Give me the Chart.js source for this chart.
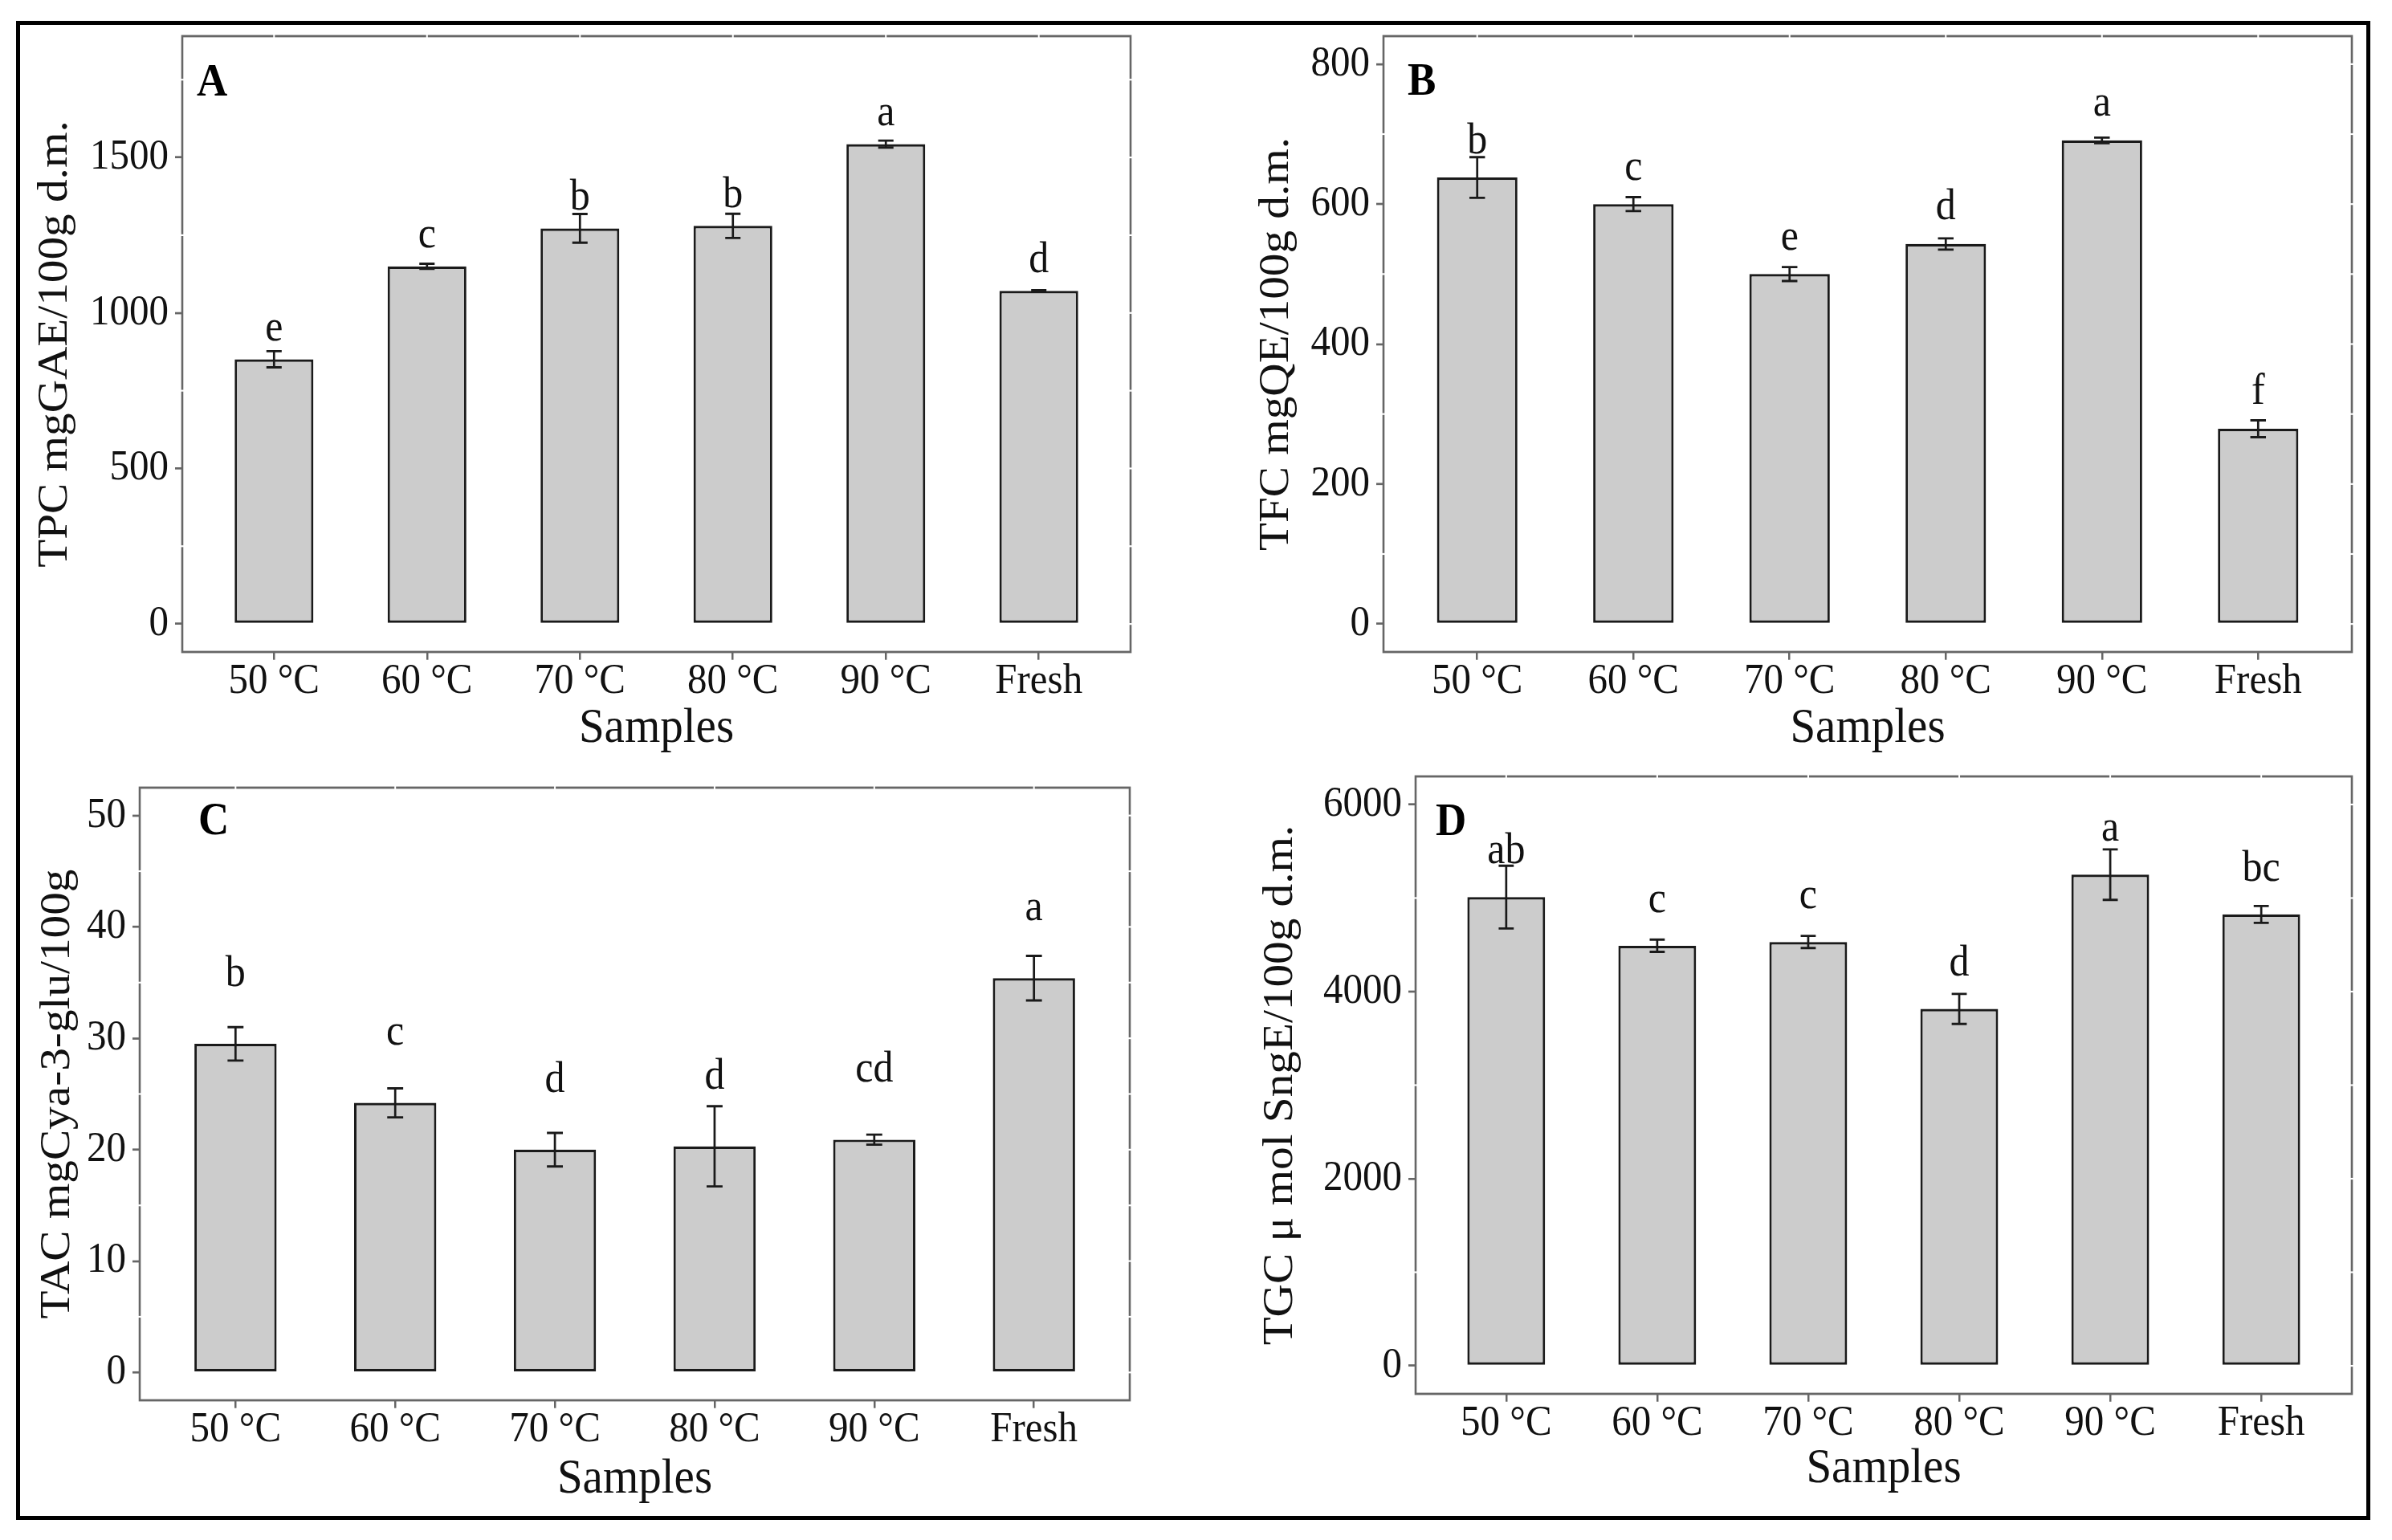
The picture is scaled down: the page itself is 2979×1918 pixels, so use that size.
<!DOCTYPE html>
<html><head><meta charset="utf-8">
<script src="https://cdn.jsdelivr.net/npm/chart.js@4.4.1/dist/chart.umd.min.js"></script>
<style>
html,body{margin:0;padding:0;background:#fff;}
body{width:2979px;height:1918px;position:relative;overflow:hidden;}
canvas{position:absolute;}
#outer{position:absolute;left:20px;top:26px;width:2922px;height:1857px;border:5px solid #000;pointer-events:none;z-index:5;}
</style></head><body>
<div id="outer"></div>
<canvas id="cA"></canvas>
<canvas id="cB"></canvas>
<canvas id="cC"></canvas>
<canvas id="cD"></canvas>
<script>
// ---------- data ----------
const categories = ['50 °C', '60 °C', '70 °C', '80 °C', '90 °C', 'Fresh'];

const tpcMean = [851, 1150, 1272, 1280, 1543, 1071];
const tpcSd = [26, 8, 46, 39, 11, 2];
const tpcLetters = ['e', 'c', 'b', 'b', 'a', 'd'];
const tpcTicks = [0, 500, 1000, 1500];
const tpcMinor = [250, 750, 1250, 1750];
const tpcRange = [-90, 1890];
const tpcLetterOffset = 60;

const tfcMean = [638, 600, 500, 543, 691, 279];
const tfcSd = [29, 10, 10, 8, 4, 12];
const tfcLetters = ['b', 'c', 'e', 'd', 'a', 'f'];
const tfcTicks = [0, 200, 400, 600, 800];
const tfcMinor = [100, 300, 500, 700];
const tfcRange = [-40, 840];
const tfcLetterOffset = 35;

const tacMean = [29.5, 24.2, 20.0, 20.3, 20.9, 35.4];
const tacSd = [1.5, 1.3, 1.5, 3.6, 0.45, 2.0];
const tacLetters = ['b', 'c', 'd', 'd', 'cd', 'a'];
const tacTicks = [0, 10, 20, 30, 40, 50];
const tacMinor = [5, 15, 25, 35, 45];
const tacRange = [-2.5, 52.5];
const tacLetterOffset = 5.2;

const tgcMean = [5010, 4490, 4530, 3815, 5250, 4825];
const tgcSd = [335, 65, 65, 160, 270, 90];
const tgcLetters = ['ab', 'c', 'c', 'd', 'a', 'bc'];
const tgcTicks = [0, 2000, 4000, 6000];
const tgcMinor = [1000, 3000, 5000];
const tgcRange = [-300, 6300];
const tgcLetterOffset = 360;

const xTitle = 'Samples';

// ---------- layout (final pixels) ----------
const FONT = '"Liberation Serif", "Times New Roman", serif';
const STRETCH = 1.08;   // the original figure is slightly stretched vertically
const panels = [
  {id:'cA', tag:'A', title:'TPC mgGAE/100g d.m.', mean:tpcMean, sd:tpcSd, letters:tpcLetters, ticks:tpcTicks, minor:tpcMinor, range:tpcRange, off:tpcLetterOffset,
   canvas:{x:30,y:0,w:1400,h:961}, frame:{l:227,t:45,r:1408,b:812}, yTitleX:69, xTitleDy:96, tagDx:18, tagDy:74},
  {id:'cB', tag:'B', title:'TFC mgQE/100g d.m.', mean:tfcMean, sd:tfcSd, letters:tfcLetters, ticks:tfcTicks, minor:tfcMinor, range:tfcRange, off:tfcLetterOffset,
   canvas:{x:1500,y:0,w:1445,h:961}, frame:{l:1723,t:45,r:2929,b:812}, yTitleX:1590, xTitleDy:96, tagDx:30, tagDy:73},
  {id:'cC', tag:'C', title:'TAC mgCya-3-glu/100g', mean:tacMean, sd:tacSd, letters:tacLetters, ticks:tacTicks, minor:tacMinor, range:tacRange, off:tacLetterOffset,
   canvas:{x:30,y:925,w:1400,h:960}, frame:{l:174,t:981,r:1407,b:1744}, yTitleX:72, xTitleDy:99, tagDx:73, tagDy:58},
  {id:'cD', tag:'D', title:'TGC μ mol SngE/100g d.m.', mean:tgcMean, sd:tgcSd, letters:tgcLetters, ticks:tgcTicks, minor:tgcMinor, range:tgcRange, off:tgcLetterOffset,
   canvas:{x:1500,y:915,w:1445,h:970}, frame:{l:1763,t:967,r:2929,b:1736}, yTitleX:1595, xTitleDy:94, tagDx:25, tagDy:73}
];

const TICK_SIZE = 49, YTITLE_SIZE = 53, XTITLE_SIZE = 57, LETTER_SIZE = 50, TAG_SIZE = 53;
const FRAME_COLOR = '#666666';
const INK = '#111111';

function makePlugin(p, sy) {
  return {
    id: 'decor' + p.tag,
    beforeDraw(chart) {
      const el = chart.canvas;
      if (el.height !== p.canvas.h) el.height = p.canvas.h;
      chart.ctx.setTransform(1, 0, 0, sy, 0, 0);
    },
    afterDatasetsDraw(chart) {
      const ctx = chart.ctx, xs = chart.scales.x, ys = chart.scales.y, a = chart.chartArea;
      ctx.save();
      // error bars
      ctx.strokeStyle = '#1a1a1a';
      ctx.lineWidth = 2.7;
      p.mean.forEach((m, i) => {
        const x = xs.getPixelForValue(i + 1);
        const half = xs.getPixelForValue(i + 1.05) - x;
        const yt = ys.getPixelForValue(m + p.sd[i]);
        const yb = ys.getPixelForValue(m - p.sd[i]);
        ctx.beginPath();
        ctx.moveTo(x, yt); ctx.lineTo(x, yb);
        ctx.moveTo(x - half, yt); ctx.lineTo(x + half, yt);
        ctx.moveTo(x - half, yb); ctx.lineTo(x + half, yb);
        ctx.stroke();
      });
      // significance letters
      ctx.fillStyle = INK;
      ctx.font = LETTER_SIZE + 'px ' + FONT;
      ctx.textAlign = 'center';
      ctx.textBaseline = 'alphabetic';
      p.letters.forEach((L, i) => {
        ctx.fillText(L, xs.getPixelForValue(i + 1), ys.getPixelForValue(p.mean[i] + p.off));
      });
      // panel frame
      ctx.strokeStyle = FRAME_COLOR;
      ctx.lineWidth = 2.6;
      ctx.strokeRect(a.left, a.top, a.right - a.left, a.bottom - a.top);
      // white grid crossings over the frame
      ctx.strokeStyle = '#ffffff';
      ctx.lineWidth = 2;
      p.ticks.concat(p.minor).forEach(v => {
        const y = ys.getPixelForValue(v);
        if (y < a.top + 3 || y > a.bottom - 3) return;
        ctx.beginPath(); ctx.moveTo(a.right - 2.5, y); ctx.lineTo(a.right + 2.5, y); ctx.stroke();
      });
      p.minor.forEach(v => {
        const y = ys.getPixelForValue(v);
        if (y < a.top + 3 || y > a.bottom - 3) return;
        ctx.beginPath(); ctx.moveTo(a.left - 2.5, y); ctx.lineTo(a.left + 2.5, y); ctx.stroke();
      });
      categories.forEach((c, i) => {
        const x = xs.getPixelForValue(i + 1);
        ctx.beginPath(); ctx.moveTo(x, a.top - 2.5); ctx.lineTo(x, a.top + 2.5); ctx.stroke();
      });
      // panel tag
      ctx.fillStyle = '#000';
      ctx.font = 'bold ' + TAG_SIZE + 'px ' + FONT;
      ctx.textAlign = 'left';
      ctx.fillText(p.tag, a.left + p.tagDx, a.top + p.tagDy / sy);
      ctx.restore();
    }
  };
}

Chart.defaults.font.family = FONT;
Chart.defaults.color = INK;

panels.forEach(p => {
  const c = p.canvas, f = p.frame;
  const hL = Math.round(c.h / STRETCH);
  const sy = c.h / hL;
  const el = document.getElementById(p.id);
  el.width = c.w; el.height = hL;
  el.style.left = c.x + 'px'; el.style.top = c.y + 'px';
  el.style.width = c.w + 'px'; el.style.height = c.h + 'px';
  const lhY = YTITLE_SIZE * 1.2, lhX = XTITLE_SIZE * 1.2;
  const gridOpts = {display: true, drawOnChartArea: false, drawTicks: true, tickLength: 9, color: FRAME_COLOR, lineWidth: 2.5, offset: false};
  new Chart(el, {
    type: 'bar',
    data: {
      datasets: [{
        data: p.mean.map((m, i) => ({x: i + 1, y: m})),
        backgroundColor: '#cccccc',
        borderColor: '#1a1a1a',
        borderWidth: 3,
        borderSkipped: false,
        barPercentage: 0.515,
        categoryPercentage: 1
      }]
    },
    options: {
      responsive: false,
      animation: false,
      devicePixelRatio: 1,
      events: [],
      layout: {padding: {top: (f.t - c.y) / sy, right: c.x + c.w - f.r, left: 0, bottom: 0}},
      plugins: {legend: {display: false}, tooltip: {enabled: false}},
      scales: {
        x: {
          type: 'linear', min: 0.4, max: 6.6, offset: false, bounds: 'data',
          afterBuildTicks: s => { s.ticks = categories.map((cat, i) => ({value: i + 1})); },
          afterFit: s => { s.height = (c.y + c.h - f.b) / sy; s.paddingLeft = 0; s.paddingRight = 0; s.paddingTop = 0; s.paddingBottom = 0; },
          ticks: {callback: v => categories[v - 1], font: {size: TICK_SIZE}, color: INK, padding: -4, maxRotation: 0, autoSkip: false},
          grid: gridOpts,
          border: {display: false},
          title: {display: true, text: xTitle, font: {size: XTITLE_SIZE}, color: INK,
                  padding: {top: 0, bottom: ((c.y + c.h) - (f.b + p.xTitleDy)) / sy - lhX / 2}}
        },
        y: {
          type: 'linear', min: p.range[0], max: p.range[1], bounds: 'data',
          afterBuildTicks: s => { s.ticks = p.ticks.map(v => ({value: v})); },
          afterFit: s => { s.width = f.l - c.x; s.paddingLeft = 0; s.paddingRight = 0; s.paddingTop = 0; s.paddingBottom = 0; },
          ticks: {callback: v => String(v), font: {size: TICK_SIZE}, color: INK, padding: 8},
          grid: gridOpts,
          border: {display: false},
          title: {display: true, text: p.title, font: {size: YTITLE_SIZE}, color: INK,
                  padding: {top: p.yTitleX - c.x - lhY / 2, bottom: 0}}
        }
      }
    },
    plugins: [makePlugin(p, sy)]
  });
});
</script>
</body></html>
